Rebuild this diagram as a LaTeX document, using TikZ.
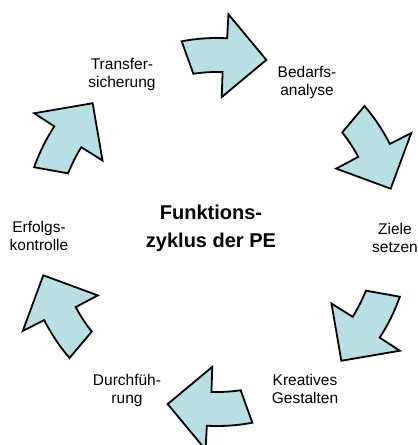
\documentclass[tikz,border=0pt]{standalone}
\usepackage{fontspec}
\setmainfont{Liberation Sans}

\definecolor{pfeilblau}{RGB}{184,224,228}

\tikzset{
	pfeil/.style={fill=pfeilblau, draw=black, line width=1.8pt, line join=miter},
	phase/.style={align=center, inner sep=0pt, font=\fontsize{15.5}{18}\selectfont},
	titel/.style={align=center, inner sep=0pt, font=\bfseries\fontsize{20}{28}\selectfont}
}

\begin{document}
\begin{tikzpicture}[x=1pt,y=1pt]
	\clip (0,0) rectangle (418,445);
	\coordinate (M) at (217,213);
	% Pfeile im Kreis
	\foreach \w in {88,28,-32,-92,-152,-212}{
		\draw [pfeil,shift={(M)}] (\w+12.5:194pt) arc [start angle=\w+12.5, end angle=\w-1, radius=194pt]
			-- (\w-1:218pt) -- (\w-14:179pt) -- (\w:135pt) -- (\w:160pt)
			arc [start angle=\w, end angle=\w+10.5, radius=160pt] -- cycle;
	}
	\node [titel] (zyklus) at (211,217) {Funktions-\\zyklus der PE};
	\node [phase] (bedarf) at (307,363) {Bedarfs-\\analyse};
	\node [phase] (ziele) at (395,207) {Ziele\\setzen};
	\node [phase] (gestalten) at (305,56) {Kreatives\\Gestalten};
	\node [phase] (durchf) at (127,55) {Durchf\"uh-\\rung};
	\node [phase] (erfolg) at (39,209) {Erfolgs-\\kontrolle};
	\node [phase] (transfer) at (122,370) {Transfer-\\sicherung};
\end{tikzpicture}
\end{document}
